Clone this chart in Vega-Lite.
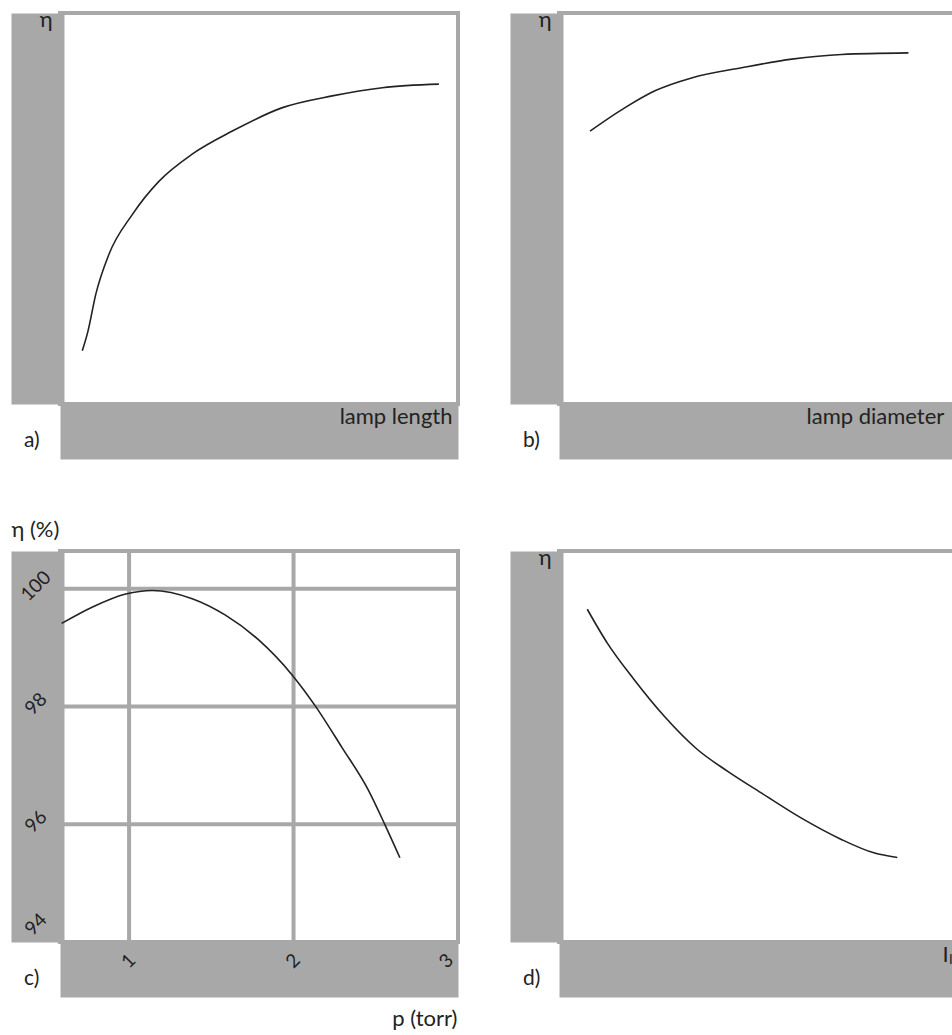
{
  "$schema": "https://vega.github.io/schema/vega-lite/v6.json",
  "background": "white",
  "padding": {"left": 9, "top": 6, "right": 0, "bottom": 0},
  "bounds": "flush",
  "columns": 2,
  "spacing": {"row": 147, "column": 101},
  "datasets": {
    "a": [
      {"lamp_length": 5.6, "eta": 13.6},
      {"lamp_length": 7.0, "eta": 18.5},
      {"lamp_length": 9.0, "eta": 28.1},
      {"lamp_length": 12.3, "eta": 38.3},
      {"lamp_length": 18.2, "eta": 48.5},
      {"lamp_length": 24.9, "eta": 57.0},
      {"lamp_length": 33.2, "eta": 63.9},
      {"lamp_length": 43.3, "eta": 69.8},
      {"lamp_length": 55.9, "eta": 75.8},
      {"lamp_length": 68.4, "eta": 78.8},
      {"lamp_length": 81.0, "eta": 80.9},
      {"lamp_length": 95.2, "eta": 81.8}
    ],
    "b": [
      {"lamp_diameter": 7.8, "eta": 69.8},
      {"lamp_diameter": 16.6, "eta": 75.8},
      {"lamp_diameter": 24.1, "eta": 80.1},
      {"lamp_diameter": 33.3, "eta": 83.4},
      {"lamp_diameter": 45.9, "eta": 86.0},
      {"lamp_diameter": 58.5, "eta": 88.2},
      {"lamp_diameter": 71.0, "eta": 89.4},
      {"lamp_diameter": 87.8, "eta": 89.8}
    ],
    "c": [
      {"p_torr": 0.59, "eta_pct": 99.41},
      {"p_torr": 0.778, "eta_pct": 99.69},
      {"p_torr": 0.98, "eta_pct": 99.91},
      {"p_torr": 1.141, "eta_pct": 99.97},
      {"p_torr": 1.384, "eta_pct": 99.83},
      {"p_torr": 1.586, "eta_pct": 99.55},
      {"p_torr": 1.788, "eta_pct": 99.13},
      {"p_torr": 1.99, "eta_pct": 98.54},
      {"p_torr": 2.132, "eta_pct": 98.01},
      {"p_torr": 2.293, "eta_pct": 97.31},
      {"p_torr": 2.455, "eta_pct": 96.58},
      {"p_torr": 2.556, "eta_pct": 95.99},
      {"p_torr": 2.647, "eta_pct": 95.43}
    ],
    "c_grid_p": [{"p_torr": 1}, {"p_torr": 2}],
    "c_grid_eta": [{"eta_pct": 96}, {"eta_pct": 98}, {"eta_pct": 100}],
    "d": [
      {"I_lamp": 7.1, "eta": 85.1},
      {"I_lamp": 12.1, "eta": 76.5},
      {"I_lamp": 18.8, "eta": 67.2},
      {"I_lamp": 26.4, "eta": 57.8},
      {"I_lamp": 34.7, "eta": 49.3},
      {"I_lamp": 42.3, "eta": 43.7},
      {"I_lamp": 50.7, "eta": 38.2},
      {"I_lamp": 60.7, "eta": 31.8},
      {"I_lamp": 70.8, "eta": 26.3},
      {"I_lamp": 79.1, "eta": 22.8},
      {"I_lamp": 85.0, "eta": 21.6}
    ]
  },
  "concat": [
    {
      "width": 398, "height": 391,
      "title": {"text": "a)"},
      "data": {"name": "a"},
      "mark": {"type": "line"},
      "encoding": {
        "x": {"field": "lamp_length", "type": "quantitative", "scale": {"domain": [0, 100]}, "axis": {"title": "lamp length"}},
        "y": {"field": "eta", "type": "quantitative", "scale": {"domain": [0, 100]}, "axis": {"title": "η"}}
      }
    },
    {
      "width": 398, "height": 391,
      "title": {"text": "b)"},
      "data": {"name": "b"},
      "mark": {"type": "line"},
      "encoding": {
        "x": {"field": "lamp_diameter", "type": "quantitative", "scale": {"domain": [0, 100]}, "axis": {"title": "lamp diameter", "titleAlign": "left", "titleX": 247}},
        "y": {"field": "eta", "type": "quantitative", "scale": {"domain": [0, 100]}, "axis": {"title": "η"}}
      }
    },
    {
      "width": 398, "height": 391,
      "title": {"text": "c)", "offset": -62},
      "layer": [
        {
          "data": {"name": "c_grid_p"},
          "mark": {"type": "rule", "color": "#a8a8a8", "strokeWidth": 4},
          "encoding": {
            "x": {"field": "p_torr", "type": "quantitative", "scale": {"domain": [0.58, 3], "zero": false, "nice": false},
              "axis": {"orient": "bottom", "title": "p (torr)", "titleX": 397, "titleY": 56, "zindex": 0}}
          }
        },
        {
          "data": {"name": "c_grid_eta"},
          "mark": {"type": "rule", "color": "#a8a8a8", "strokeWidth": 4},
          "encoding": {
            "y": {"field": "eta_pct", "type": "quantitative", "scale": {"domain": [94, 100.64], "zero": false, "nice": false},
              "axis": {"orient": "left", "title": "η (%)", "titleAlign": "left", "titleX": -26.5, "titleY": -15, "zindex": 0}}
          }
        },
        {
          "data": {"name": "c"},
          "mark": {"type": "line", "clip": true},
          "encoding": {
            "x": {"field": "p_torr", "type": "quantitative", "scale": {"domain": [0.58, 3], "zero": false, "nice": false},
              "axis": {"orient": "bottom", "title": null, "domain": false, "values": [1, 2, 3], "labels": true, "labelAngle": -45, "labelAlign": "center", "labelBaseline": "middle", "labelPadding": -9,
                "labelOffset": {"condition": {"test": "datum.value === 3", "value": -12}, "value": -1}, "zindex": 1}},
            "y": {"field": "eta_pct", "type": "quantitative", "scale": {"domain": [94, 100.64], "zero": false, "nice": false},
              "axis": {"orient": "left", "title": null, "domain": false, "values": [94, 96, 98, 100], "labels": true, "labelAngle": -45, "labelAlign": "center", "labelBaseline": "middle", "labelPadding": 2,
                "labelOffset": {"condition": {"test": "datum.value === 94", "value": -18}, "value": -3}, "zindex": 1}}
          }
        }
      ],
      "resolve": {"axis": {"x": "independent", "y": "independent"}}
    },
    {
      "width": 398, "height": 391,
      "title": {"text": "d)"},
      "data": {"name": "d"},
      "mark": {"type": "line"},
      "encoding": {
        "x": {"field": "I_lamp", "type": "quantitative", "scale": {"domain": [0, 100]}, "axis": {"title": "Iₗₐₘₚ", "titleAlign": "left", "titleX": 383}},
        "y": {"field": "eta", "type": "quantitative", "scale": {"domain": [0, 100]}, "axis": {"title": "η"}}
      }
    }
  ],
  "config": {
    "font": "Lato",
    "view": {"stroke": "#a8a8a8", "strokeWidth": 4, "fill": "white"},
    "axis": {
      "domainColor": "#a8a8a8", "domainCap": "butt", "ticks": false, "tickSize": 0,
      "grid": false, "labels": false, "labelFont": "Lato", "labelFontSize": 19, "labelColor": "#222", "labelOverlap": false,
      "titleFont": "Lato", "titleFontSize": 22, "titleFontWeight": "normal", "titleColor": "#222"
    },
    "axisY": {"domainWidth": 53, "offset": 22.5, "titleAngle": 0, "titleAlign": "right", "titleBaseline": "alphabetic", "titleX": 14.5, "titleY": 13},
    "axisX": {"domainWidth": 55, "offset": 27.5, "titleAngle": 0, "titleAlign": "right", "titleBaseline": "alphabetic", "titleX": 392, "titleY": -8.5},
    "title": {"orient": "bottom", "anchor": "start", "frame": "group", "fontSize": 21, "fontWeight": "normal", "color": "#222", "font": "Lato", "dx": -36, "offset": -2, "baseline": "top"},
    "line": {"color": "#222", "strokeWidth": 1.6, "interpolate": "monotone"}
  }
}
